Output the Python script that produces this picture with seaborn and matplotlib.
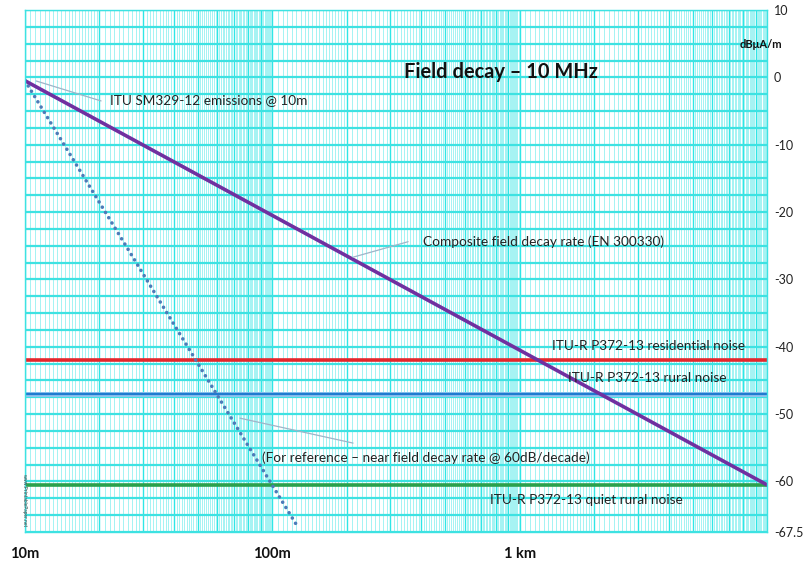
import numpy as np
import pandas as pd
import matplotlib
matplotlib.use("Agg")
import matplotlib.pyplot as plt
from matplotlib.ticker import FixedLocator, FixedFormatter, NullFormatter
import seaborn as sns

# ---- data ----
composite_dist = [10, 10000]          # metres
composite_db = [-0.5, -60.5]          # dBuA/m, 20 dB/decade
nearfield_dist = [10, 126]
nearfield_db = [-0.5, -66.6]          # 60 dB/decade
noise_dist = [10, 10000]
residential_db = [-42, -42]
rural_db = [-47, -47]
quiet_rural_db = [-60.5, -60.5]

ytick_values = [10, 0, -10, -20, -30, -40, -50, -60, -67.5]
ytick_labels = ["10", "0", "-10", "-20", "-30", "-40", "-50", "-60", "-67.5"]
xtick_values = [10, 100, 1000]
xtick_labels = ["10m", "100m", "1 km"]

sns.set_style("white")
plt.rcParams["font.family"] = ["Lato", "DejaVu Sans"]

fig = plt.figure(figsize=(8.04, 5.61), dpi=100)
ax = fig.add_axes([25 / 804, 29 / 561, 742 / 804, 522 / 561])

# graph-paper grid
major_x = [m * 10 ** d for d in range(1, 4) for m in range(1, 10)] + [10000]
minor_x = []
for d in range(1, 4):
    base = 10 ** d
    minor_x += list(base * np.arange(1.05, 2.0, 0.05))
    minor_x += list(base * np.arange(2.1, 10.0, 0.1))
ax.set_xscale("log")
ax.set_xlim(10, 10000)
ax.set_ylim(-67.5, 10)
ax.xaxis.set_major_locator(FixedLocator(major_x))
ax.xaxis.set_minor_locator(FixedLocator(minor_x))
ax.xaxis.set_major_formatter(FixedFormatter(
    [xtick_labels[xtick_values.index(v)] if v in xtick_values else "" for v in major_x]))
ax.xaxis.set_minor_formatter(NullFormatter())
ygrid = list(np.arange(10, -67.6, -2.5))
ax.yaxis.set_major_locator(FixedLocator(ygrid))
ax.yaxis.set_major_formatter(FixedFormatter(
    [ytick_labels[ytick_values.index(v)] if v in ytick_values else "" for v in ygrid]))
ax.yaxis.set_minor_formatter(NullFormatter())
ax.grid(which="major", axis="x", color="#2fe6e6", lw=1.0)
ax.grid(which="minor", axis="x", color="#a4f3f3", lw=0.7)
ax.grid(which="major", axis="y", color="#3de2e2", lw=1.6)
ax.set_axisbelow(True)
ax.yaxis.tick_right()
ax.tick_params(axis="y", which="both", length=0, pad=5, labelsize=9.0, labelcolor="#222222")
ax.tick_params(axis="x", which="both", length=0, pad=11, labelsize=10.5, labelcolor="#111111")
for lab in ax.get_xticklabels():
    lab.set_fontweight("bold")
for s in ax.spines.values():
    s.set_color("#3de2e2")
    s.set_linewidth(1.0)

# data lines
df_comp = pd.DataFrame({"d": composite_dist, "v": composite_db})
df_near = pd.DataFrame({"d": nearfield_dist, "v": nearfield_db})
df_res = pd.DataFrame({"d": noise_dist, "v": residential_db})
df_rur = pd.DataFrame({"d": noise_dist, "v": rural_db})
df_qr = pd.DataFrame({"d": noise_dist, "v": quiet_rural_db})

sns.lineplot(data=df_res, x="d", y="v", ax=ax, color="#e4262c", lw=2.6)
sns.lineplot(data=df_rur, x="d", y="v", ax=ax, color="#8fc3ee", lw=3.6)
sns.lineplot(data=df_rur, x="d", y="v", ax=ax, color="#1f7bd0", lw=1.6)
sns.lineplot(data=df_qr, x="d", y="v", ax=ax, color="#2ba04c", lw=2.6)
sns.lineplot(data=df_near, x="d", y="v", ax=ax, color="#4c7bb8", lw=2.6,
             linestyle=(0, (0.01, 1.7)), dash_capstyle="round")
sns.lineplot(data=df_comp, x="d", y="v", ax=ax, color="#7030a0", lw=2.6)
ax.set_xlabel("")
ax.set_ylabel("")

# annotations: leader lines
lead = dict(arrowstyle="-", color="#9fb4c8", lw=0.9, shrinkA=0, shrinkB=0)
ax.annotate("", xy=(11.1, -0.54), xytext=(20.3, -3.5), arrowprops=lead)
ax.annotate("", xy=(212, -26.7), xytext=(354, -24.4), arrowprops=lead)
ax.annotate("", xy=(74, -50.6), xytext=(212, -54.3), arrowprops=lead)

fs = 9.8
tc = "#222222"
ax.text(22.1, -3.4, "ITU SM329-12 emissions @ 10m", fontsize=fs, va="center", ha="left", color=tc)
ax.text(406, -24.4, "Composite field decay rate (EN 300330)", fontsize=fs, va="center", ha="left", color=tc)
ax.text(90.8, -56.5, "(For reference \u2013 near field decay rate @ 60dB/decade)",
        fontsize=fs, va="center", ha="left", color=tc)
ax.text(1352, -39.9, "ITU-R P372-13 residential noise", fontsize=fs, va="center", ha="left", color=tc)
ax.text(1570, -44.6, "ITU-R P372-13 rural noise", fontsize=fs, va="center", ha="left", color=tc)
ax.text(759, -62.8, "ITU-R P372-13 quiet rural noise", fontsize=fs, va="center", ha="left", color=tc)

ax.text(0.6415, 0.881, "Field decay \u2013 10 MHz", transform=ax.transAxes, fontsize=14.4,
        fontweight="bold", ha="center", va="center", color="#111111")
ax.text(0.992, 0.933, "dB\u03bcA/m", transform=ax.transAxes, fontsize=8,
        fontweight="bold", ha="center", va="center", color="#111111")
ax.text(-0.0005, 0.061, "www.PrintablePaper.net", transform=ax.transAxes, fontsize=3.5,
        rotation=-90, ha="center", va="center", color="#444444")

fig.savefig("out.png", dpi=100)
